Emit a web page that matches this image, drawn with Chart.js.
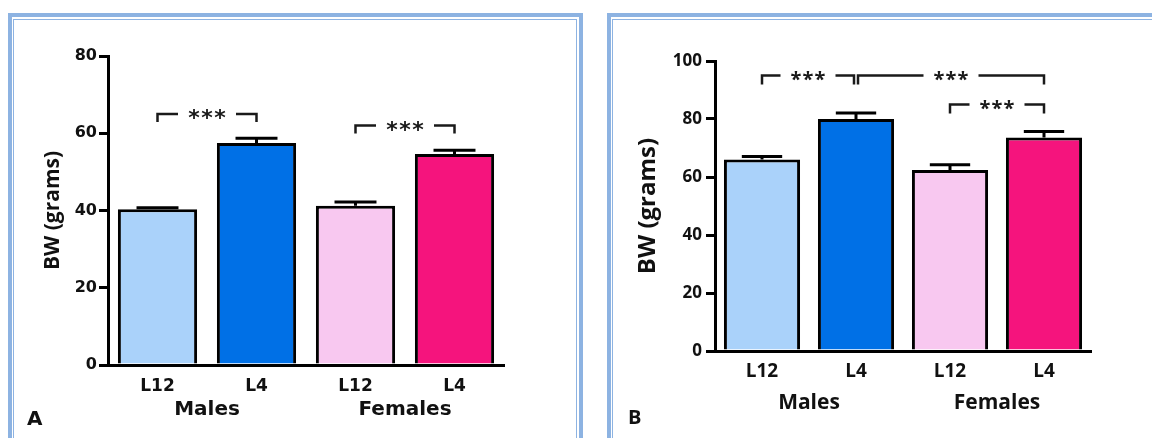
<!DOCTYPE html>
<html>
<head>
<meta charset="utf-8">
<script src="https://cdn.jsdelivr.net/npm/chart.js@4.4.1/dist/chart.umd.min.js"></script>
<style>
  html, body { margin: 0; padding: 0; background: #fff; width: 1152px; height: 438px; overflow: hidden; }
  .frame { position: absolute; top: 13px; height: 470px; border: 4px solid #8db3e2; box-sizing: border-box; }
  .frame::before { content: ""; position: absolute; left: 1px; top: 2px; right: 2px; bottom: 2px; border: 1px solid #8db3e2; }
  #frameA { left: 8px; width: 575px; }
  #frameB { left: 607px; width: 570px; }
  canvas { position: absolute; }
  #chartA { left: 14px; top: 22px; }
  #chartB { left: 614px; top: 22px; }
</style>
</head>
<body>
<div class="frame" id="frameA"></div>
<div class="frame" id="frameB"></div>
<canvas id="chartA" width="558" height="416"></canvas>
<canvas id="chartB" width="538" height="416"></canvas>
<script>
// Body weight (grams) by line and sex, mean and SEM
const categories = ['L12', 'L4', 'L12', 'L4'];
const groups = ['Males', 'Females'];

const bwA  = [40.3, 57.5, 41.2, 54.6];
const semA = [0.4, 1.2, 1.0, 1.0];
const yTicksA = [0, 20, 40, 60, 80];

const bwB  = [66.0, 80.0, 62.4, 73.6];
const semB = [1.1, 2.1, 1.8, 2.1];
const yTicksB = [0, 20, 40, 60, 80, 100];

// significance comparisons: category index pairs and bracket height (grams)
const sigFromA = [0, 2];
const sigToA   = [1, 3];
const sigYA    = [65, 62];

const sigFromB = [0, 1, 2];
const sigToB   = [1, 3, 3];
const sigYB    = [95, 95, 85];

const sigLabel = '***';
const barColors = ['#aad2fa', '#0070e6', '#f8c8f0', '#f5147d'];

// SEM whiskers on top of each bar
const errorBars = {
  id: 'errorBars',
  afterDatasetsDraw(chart, args, opts) {
    const { ctx } = chart;
    const y = chart.scales.y;
    const values = chart.data.datasets[0].data;
    ctx.save();
    ctx.strokeStyle = '#000';
    ctx.lineWidth = 3;
    chart.getDatasetMeta(0).data.forEach((bar, i) => {
      const top = y.getPixelForValue(values[i] + opts.errors[i]);
      const half = bar.width * opts.capRatio / 2;
      ctx.beginPath();
      ctx.moveTo(bar.x, bar.y);
      ctx.lineTo(bar.x, top);
      ctx.moveTo(bar.x - half, top);
      ctx.lineTo(bar.x + half, top);
      ctx.stroke();
    });
    ctx.restore();
  }
};

// brackets with significance stars
const sigBrackets = {
  id: 'sigBrackets',
  afterDatasetsDraw(chart, args, opts) {
    const { ctx } = chart;
    const { x, y } = chart.scales;
    ctx.save();
    ctx.font = opts.font;
    ctx.strokeStyle = '#1a1a1a';
    ctx.fillStyle = '#1a1a1a';
    ctx.lineWidth = 2.5;
    ctx.lineJoin = 'miter';
    const m = ctx.measureText('*');
    const glyphW = m.actualBoundingBoxLeft + m.actualBoundingBoxRight;
    opts.from.forEach((f, k) => {
      const t = opts.to[k];
      const sharedStart = opts.to.some((tt, j) => j !== k && tt === f);
      const sharedEnd = opts.from.some((ff, j) => j !== k && ff === t);
      const x1 = x.getPixelForValue(f) + (sharedStart ? opts.nudge : 0);
      const x2 = x.getPixelForValue(t) - (sharedEnd ? opts.nudge : 0);
      const ly = y.getPixelForValue(opts.y[k]);
      const cx = (x1 + x2) / 2;
      const n = opts.label.length;
      const halfText = ((n - 1) * opts.pitch + glyphW) / 2;
      ctx.beginPath();
      ctx.moveTo(x1, ly + opts.leg);
      ctx.lineTo(x1, ly);
      ctx.lineTo(cx - halfText - opts.gap, ly);
      ctx.moveTo(cx + halfText + opts.gap, ly);
      ctx.lineTo(x2, ly);
      ctx.lineTo(x2, ly + opts.leg);
      ctx.stroke();
      ctx.textAlign = 'center';
      ctx.textBaseline = 'alphabetic';
      const base = ly + (m.actualBoundingBoxAscent - m.actualBoundingBoxDescent) / 2;
      for (let i = 0; i < n; i++) {
        ctx.fillText(opts.label[i], cx + (i - (n - 1) / 2) * opts.pitch, base);
      }
    });
    ctx.restore();
  }
};

// panel letter in the lower-left corner
const panelLabel = {
  id: 'panelLabel',
  afterDraw(chart, args, opts) {
    const { ctx } = chart;
    ctx.save();
    ctx.font = opts.font;
    ctx.fillStyle = '#111';
    ctx.textAlign = 'left';
    ctx.textBaseline = 'alphabetic';
    ctx.fillText(opts.text, opts.left, chart.height - opts.bottom);
    ctx.restore();
  }
};

function buildChart(id, p) {
  const f = (size, family) => ({ family: family || p.family, size: size, weight: 'bold' });
  return new Chart(document.getElementById(id), {
    type: 'bar',
    data: {
      labels: categories,
      datasets: [{
        data: p.values,
        backgroundColor: barColors,
        borderColor: '#000',
        borderWidth: 3,
        borderSkipped: 'start',
        barPercentage: p.barPct,
        categoryPercentage: 1
      }]
    },
    options: {
      responsive: false,
      animation: false,
      layout: { padding: p.padding },
      plugins: {
        legend: { display: false },
        tooltip: { enabled: false },
        errorBars: { errors: p.errors, capRatio: 0.53 },
        sigBrackets: {
          from: p.sigFrom, to: p.sigTo, y: p.sigY, label: sigLabel,
          font: 'bold ' + p.starSize + 'px ' + p.family,
          pitch: p.starPitch, gap: 10, leg: p.leg, nudge: 2
        },
        panelLabel: { text: p.panel, font: 'bold ' + p.panelSize + 'px ' + p.family, left: p.panelLeft, bottom: p.panelBottom }
      },
      scales: {
        x: {
          type: 'category',
          offset: true,
          z: 1,
          grid: { display: false, drawTicks: false },
          border: { display: true, color: '#000', width: 3 },
          ticks: { font: f(p.xSize), color: '#111', padding: p.xPad, maxRotation: 0, autoSkip: false },
          afterFit: (s) => { s.height = p.xHeight; }
        },
        x2: {
          type: 'category',
          labels: groups,
          position: 'bottom',
          offset: true,
          weight: 1,
          grid: { display: false, drawTicks: false },
          border: { display: false },
          ticks: { font: f(p.gSize), color: '#111', padding: p.gPad, maxRotation: 0, autoSkip: false },
          afterFit: (s) => { s.height = p.gHeight; }
        },
        y: {
          min: 0,
          max: p.ticks[p.ticks.length - 1],
          z: 1,
          afterBuildTicks: (s) => { s.ticks = p.ticks.map((v) => ({ value: v })); },
          grid: { display: true, drawOnChartArea: false, drawTicks: true, tickLength: 9, lineWidth: 3, color: '#000' },
          border: { display: true, color: '#000', width: 3 },
          ticks: { font: f(p.ySize), color: '#111', padding: p.yPad },
          title: { display: true, text: 'BW (grams)', font: f(p.titleSize, "'Open Sans', sans-serif"), color: '#111', padding: { top: p.titlePad, bottom: 0 } },
          afterFit: (s) => { s.width = p.yWidth; }
        }
      }
    },
    plugins: [errorBars, sigBrackets, panelLabel]
  });
}

buildChart('chartA', {
  values: bwA, errors: semA, ticks: yTicksA,
  sigFrom: sigFromA, sigTo: sigToA, sigY: sigYA,
  family: "'DejaVu Sans', sans-serif",
  padding: { left: 0, top: 34, right: 68, bottom: 0 },
  barPct: 0.8,
  yWidth: 94, ySize: 16, yPad: 2, titleSize: 21, titlePad: 26,
  xHeight: 30, xSize: 17, xPad: 11,
  gHeight: 43, gSize: 20, gPad: 3,
  starSize: 22, starPitch: 13, leg: 8,
  panel: 'A', panelSize: 20, panelLeft: 13, panelBottom: 13
});

buildChart('chartB', {
  values: bwB, errors: semB, ticks: yTicksB,
  sigFrom: sigFromB, sigTo: sigToB, sigY: sigYB,
  family: "'Open Sans', sans-serif",
  padding: { left: 0, top: 39, right: 61, bottom: 0 },
  barPct: 0.81,
  yWidth: 101, ySize: 17, yPad: 4, titleSize: 24, titlePad: 20,
  xHeight: 28, xSize: 19, xPad: 9,
  gHeight: 59, gSize: 21, gPad: 11,
  starSize: 20, starPitch: 12, leg: 9,
  panel: 'B', panelSize: 20, panelLeft: 14, panelBottom: 14
});
</script>
</body>
</html>
